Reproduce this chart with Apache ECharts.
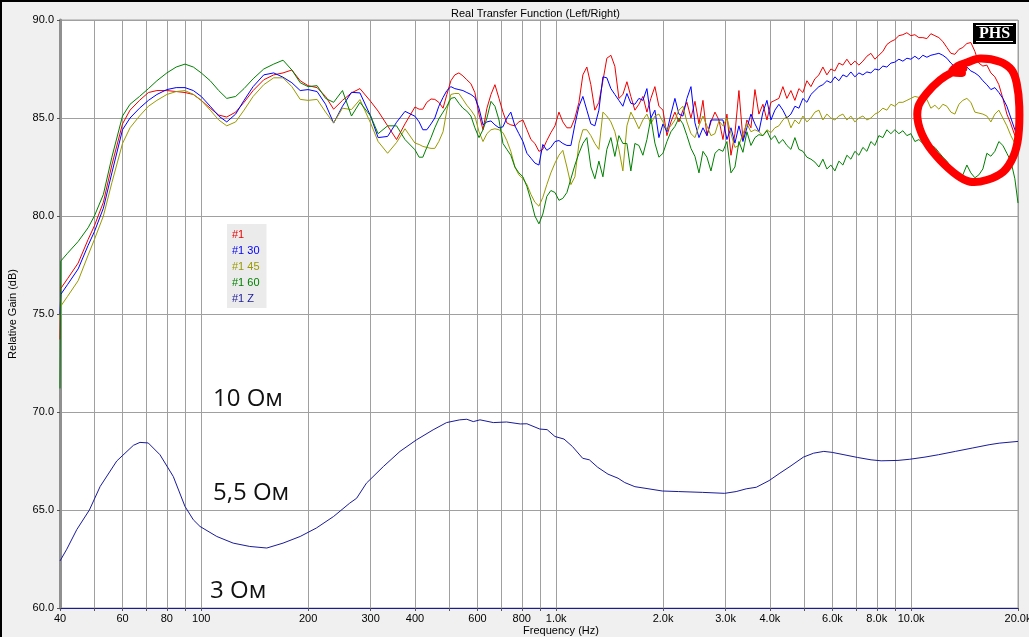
<!DOCTYPE html>
<html>
<head>
<meta charset="utf-8">
<script src="https://cdn.jsdelivr.net/npm/echarts@6/dist/echarts.min.js"></script>
<style>
html,body{margin:0;padding:0;background:#f0f0f0;}
#c{width:1029px;height:637px;}
</style>
</head>
<body>
<div id="c"></div>
<script>
// ---------- DATA ----------
const seriesNames = ['#1', '#1 30', '#1 45', '#1 60', '#1 Z'];
const xTickFreqs = [40,50,60,70,80,90,100,200,300,400,500,600,700,800,900,1000,2000,3000,4000,5000,6000,7000,8000,9000,10000,20000];
const xLabelFreqs = [40,60,80,100,200,300,400,600,800,1000,2000,3000,4000,6000,8000,10000,20000];

const freqLow = [40,40.2,42,45,48,50,53,56,60,63,67,71,75,80,85,90,95,100,106,112,118,125,132,140,150,160,170,180,190,200,212,224,236,250,265,280,300,315,335,355,375];
const freqHigh = [
400,411,421,432,444,455,467,480,492,505,
518,532,546,560,575,590,606,622,638,655,
672,690,708,726,745,765,785,806,827,849,
871,894,917,941,966,992,1018,1044,1072,1100,
1129,1159,1189,1220,1252,1285,1319,1354,1389,1426,
1463,1502,1541,1582,1623,1666,1710,1755,1801,1848,
1897,1947,1999,2051,2105,2160,2217,2275,2335,2397,
2460,2525,2591,2659,2729,2801,2874,2950,3027,3107,
3188,3272,3358,3446,3537,3630,3725,3823,3924,4027,
4132,4240,4352,4466,4584,4704,4828,4955,5085,5219,
5356,5497,5641,5789,5941,6098,6258,6422,6591,6764,
6942,7125,7312,7504,7701,7904,8111,8325,8543,8768,
8998,9235,9478,9727,9983,10245,10514,10791,11074,11365,
11664,11971,12285,12608,12940,13280,13629,13987,14355,14732,
15119,15516,15924,16343,16772,17213,17666,18130,18607,19096,
19598,20000];

// #1 (red)
const gain1 = [
73.7,76.3,76.8,77.6,78.8,79.5,80.7,82.6,84.7,85.4,85.9,86.3,86.4,86.4,86.35,86.3,86.2,85.9,85.5,85.15,85.05,85.3,85.8,86.4,86.95,87.2,87.3,87.45,86.9,86.65,86.55,86.1,85.45,85.9,86.28,86.5,85.85,85.35,84.6,83.9,84.7,
85.56,85.45,85.45,85.8,85.97,85.95,85.8,85.5,86.2,86.9,
87.2,87.3,87.15,86.95,86.75,86.3,85.2,84.4,85.5,86.2,
86.7,86.0,85.3,84.75,84.65,84.6,84.8,84.9,84.4,83.9,
83.7,83.3,83.4,83.85,84.25,84.6,85.3,84.8,84.5,84.5,
85.0,85.8,87.2,87.6,86.7,85.4,85.8,86.9,88.05,88.2,
87.64,86.0,86.2,86.85,86.1,85.4,85.7,86.1,85.3,86.0,
86.6,85.6,85.4,84.1,84.8,85.3,84.8,85.4,85.8,85.0,
85.85,84.7,85.9,84.1,84.8,85.3,84.9,83.9,85.2,83.1,
84.2,86.4,83.9,84.9,84.5,86.45,85.2,85.7,84.9,85.8,
85.9,86.0,86.6,86.0,86.4,85.9,86.5,86.3,86.9,86.6,
87.0,87.2,87.6,87.2,87.5,87.4,87.8,87.7,88.0,87.7,
87.9,87.7,87.9,88.15,88.3,88.0,88.2,88.4,88.75,88.9,
89.0,89.2,89.25,89.35,89.2,89.25,89.1,89.1,89.05,89.3,
89.2,89.1,88.9,88.6,88.3,88.25,88.5,88.6,88.8,88.85,
88.4,87.8,87.65,87.7,87.3,87.1,86.7,86.0,85.2,84.7,
84.1,83.7];

// #1 30 (blue)
const gain30 = [
75.0,76.0,76.5,77.3,78.5,79.2,80.4,82.2,84.4,85.0,85.5,85.9,86.2,86.45,86.55,86.55,86.4,86.1,85.6,85.1,84.8,85.2,85.9,86.6,87.2,87.3,87.08,86.8,86.4,86.45,86.35,85.7,84.74,85.6,86.31,86.28,85.1,84.0,84.06,84.78,85.34,
85.09,84.8,84.4,84.4,84.7,85.0,85.6,86.05,86.4,86.6,
86.5,86.45,86.4,86.3,86.2,86.05,85.5,84.65,84.8,84.85,
84.65,84.5,84.55,85.0,85.3,84.6,84.2,83.8,83.2,82.95,
82.7,82.6,83.65,83.35,83.5,83.8,83.85,83.7,83.6,83.6,
84.66,85.6,86.1,85.4,84.7,84.6,85.4,87.1,87.05,86.5,
86.2,85.9,85.6,86.25,85.75,85.7,86.0,85.9,86.5,85.0,
85.4,84.0,84.7,84.3,85.2,86.0,85.2,85.1,86.0,86.6,
84.75,84.0,84.5,84.1,84.9,84.9,84.9,84.9,83.9,84.5,
83.72,84.6,83.8,84.5,85.2,84.7,84.3,85.3,85.9,84.9,
85.4,85.7,85.4,85.0,85.2,85.6,85.5,86.0,85.8,86.2,
86.4,86.6,86.7,86.9,86.8,87.1,86.9,87.2,87.1,87.35,
87.1,87.3,87.2,87.35,87.3,87.5,87.45,87.65,87.6,87.8,
87.85,88.0,87.9,88.05,88.0,88.15,88.0,88.2,88.1,88.2,
88.25,88.3,88.2,88.05,87.8,87.6,87.5,87.7,87.6,87.4,
87.3,87.15,86.9,86.7,86.45,86.55,86.3,86.0,85.6,85.0,
84.4,84.0];

// #1 45 (olive)
const gain45 = [
74.7,75.4,75.9,76.7,78.0,78.8,80.0,81.7,83.7,84.5,85.1,85.6,85.9,86.2,86.35,86.4,86.2,85.9,85.4,84.9,84.6,84.8,85.4,86.1,86.7,87.05,87.05,86.6,85.95,85.9,85.95,85.3,84.75,85.5,85.43,85.94,84.74,83.8,83.2,83.75,84.45,
83.72,83.65,83.55,83.5,83.45,83.45,83.8,84.3,85.4,86.2,
86.25,86.25,85.95,85.65,85.4,85.1,84.3,83.8,84.2,84.4,
84.45,84.4,84.25,83.85,83.3,82.5,82.1,81.9,81.6,81.1,
80.7,80.5,80.95,81.6,82.2,82.7,83.1,83.35,82.5,81.6,
82.0,83.7,84.4,84.4,84.1,83.7,83.4,85.3,85.1,84.8,
84.3,83.4,82.3,84.6,85.3,84.9,84.45,84.9,85.2,84.7,
85.1,85.2,84.8,84.4,84.6,84.9,85.4,85.6,84.8,84.2,
84.0,84.6,85.1,84.6,84.1,84.2,84.85,84.6,85.0,84.2,
83.5,83.6,84.2,84.7,84.3,84.4,84.3,84.1,84.4,84.25,
84.5,84.6,84.9,85.1,84.5,84.9,84.7,85.1,84.8,85.0,
85.3,85.4,84.9,85.2,85.0,84.9,85.1,85.2,84.9,85.1,
84.8,85.0,85.1,84.9,85.0,85.2,85.3,85.5,85.4,85.7,
85.6,85.8,85.8,85.9,86.0,86.1,86.05,85.9,85.95,85.5,
85.65,85.45,85.7,85.6,85.3,85.2,85.7,85.9,86.0,85.8,
85.3,85.25,85.2,85.1,84.8,85.2,85.4,85.0,84.6,84.1,
83.7,83.3];

// #1 60 (green)
const gain60 = [
71.2,77.7,78.1,78.7,79.4,80.0,81.1,83.0,85.1,85.7,86.1,86.5,86.9,87.3,87.6,87.75,87.6,87.3,86.9,86.4,86.0,86.1,86.5,87.0,87.5,87.75,87.95,87.45,86.8,86.6,86.65,86.0,85.8,86.4,85.1,85.8,85.1,84.2,84.6,84.6,83.9,
83.38,83.0,83.0,83.5,84.0,84.5,84.95,85.3,85.6,86.0,
86.05,85.75,85.5,85.35,85.1,84.5,84.0,84.4,85.0,85.85,
85.6,84.9,83.7,83.4,83.1,82.5,82.2,82.0,81.5,80.8,
80.0,79.6,80.1,81.0,81.3,81.2,80.8,80.9,81.2,81.9,
82.6,83.2,83.7,84.0,82.5,81.9,82.8,82.0,83.4,84.0,
83.04,84.1,83.7,83.7,82.3,83.7,83.6,83.1,83.9,85.0,
83.72,83.0,83.2,83.8,84.3,84.57,85.0,84.7,84.1,83.45,
83.04,82.2,83.3,83.0,82.3,83.2,83.4,83.3,83.8,82.2,
82.5,83.8,83.25,84.3,83.6,84.0,84.15,84.1,84.35,83.9,
84.1,83.7,83.9,83.6,83.4,84.0,83.4,83.3,83.0,82.9,
82.75,82.5,82.9,82.4,82.6,82.3,82.8,82.6,83.1,82.9,
83.3,83.1,83.5,83.3,83.8,83.6,84.1,84.0,84.4,84.2,
84.4,84.2,84.35,84.1,84.2,83.8,83.9,83.7,83.9,83.6,
83.5,83.25,83.0,82.8,82.5,82.0,81.9,82.1,82.6,82.2,
81.95,82.1,82.4,83.2,83.05,83.3,83.8,83.6,83.2,82.8,
81.9,80.66];

// #1 Z (impedance curve, own frequency grid)
const zFreq = [40,41.8,44.6,48.4,51.9,57.8,64.4,67.2,70.9,76.5,83.4,90,95,99.2,110.6,123,137,153,170,190,211,236,262,274,292,326,363,404,450,491,535,560,584,610,665,725,792,827,899,943,992,1052,1111,1187,1240,1309,1399,1494,1560,1666,1779,1990,2214,2580,2982,3213,3430,3662,3979,4268,4557,4973,5313,5675,5991,6468,7064,7710,8229,9180,9915,10940,11940,13320,14860,16580,17700,20000];
const zGain = [62.4,63.0,64.0,65.0,66.2,67.5,68.3,68.45,68.42,67.82,66.71,65.18,64.5,64.16,63.65,63.31,63.14,63.06,63.31,63.65,64.08,64.67,65.35,65.6,66.37,67.22,67.99,68.58,69.09,69.46,69.6,69.63,69.51,69.6,69.46,69.49,69.39,69.4,69.13,69.1,68.75,68.62,68.24,67.64,67.56,67.18,66.83,66.62,66.4,66.19,66.11,65.97,65.94,65.9,65.85,65.94,66.08,66.16,66.5,66.88,67.22,67.7,67.9,67.99,67.94,67.82,67.68,67.56,67.51,67.53,67.59,67.7,67.82,67.99,68.16,68.33,68.41,68.5];

const colors = ['#ee0000', '#0000ff', '#9a9a00', '#008000', '#1a1a9a'];

// ---------- BUILD ----------
const freq = freqLow.concat(freqHigh);
function zip(xs, ys) {
  if (xs.length !== ys.length) console.error('length mismatch', xs.length, ys.length);
  return xs.map((x, i) => [x, ys[i]]);
}
const seriesData = [zip(freq, gain1), zip(freq, gain30), zip(freq, gain45), zip(freq, gain60), zip(zFreq, zGain)];

const axisFont = 'Liberation Sans, Arial, sans-serif';
const chart = echarts.init(document.getElementById('c'));
const option = {
  animation: false,
  backgroundColor: '#f0f0f0',
  title: {
    text: 'Real Transfer Function (Left/Right)',
    left: 446, top: 3,
    textStyle: {fontSize: 11, fontWeight: 'normal', color: '#000', fontFamily: axisFont}
  },
  grid: {left: 60, right: 11, top: 20, bottom: 29, outerBoundsMode: 'none', containLabel: false,
    show: true, backgroundColor: '#ffffff', borderColor: '#a0a0a0', borderWidth: 1},
  legend: {
    orient: 'vertical', left: 227, top: 224,
    selectedMode: false,
    icon: 'rect', itemWidth: 0, itemHeight: 13, itemGap: 3,
    backgroundColor: '#ebebeb', padding: [4, 7, 3, 0],
    textStyle: {fontSize: 11, fontFamily: axisFont, lineHeight: 13},
    data: seriesNames.map((n, i) => ({name: n, textStyle: {color: colors[i]}, itemStyle: {opacity: 0}}))
  },
  xAxis: {
    type: 'log', logBase: 10, min: 40, max: 20000,
    name: 'Frequency (Hz)', nameLocation: 'middle', nameGap: 17, nameMoveOverlap: false,
    nameTextStyle: {fontSize: 11, color: '#000', fontFamily: axisFont, padding: [0, 0, 0, 44]},
    axisLine: {show: true, lineStyle: {color: '#1a1a9a', width: 1}},
    axisTick: {show: true, customValues: xTickFreqs, length: 3, lineStyle: {color: '#555'}},
    axisLabel: {
      customValues: xLabelFreqs, fontSize: 11, color: '#000', fontFamily: axisFont, margin: 5,
      formatter: v => v >= 1000 ? (v / 1000).toFixed(1) + 'k' : String(v)
    },
    splitLine: {show: true, lineStyle: {color: '#a0a0a0', width: 1}},
    minorTick: {show: false}, minorSplitLine: {show: false}
  },
  yAxis: {
    type: 'value', min: 60, max: 90, interval: 5,
    name: 'Relative Gain (dB)', nameLocation: 'middle', nameGap: 42, nameMoveOverlap: false,
    nameTextStyle: {fontSize: 11, color: '#000', fontFamily: axisFont},
    axisLine: {show: true, lineStyle: {color: '#909090', width: 3}},
    axisTick: {show: true, length: 3, lineStyle: {color: '#555'}},
    axisLabel: {fontSize: 11, color: '#000', fontFamily: axisFont, margin: 6, formatter: v => v.toFixed(1)},
    splitLine: {show: true, lineStyle: {color: '#a0a0a0', width: 1}}
  },
  series: seriesNames.map((n, i) => ({
    name: n, type: 'line', data: seriesData[i],
    showSymbol: false, symbol: 'none',
    lineStyle: {color: colors[i], width: 1},
    itemStyle: {color: colors[i]},
    emphasis: {disabled: true}
  })),
  graphic: [
    {type: 'rect', shape: {x: 0, y: 0, width: 1029, height: 2}, style: {fill: '#000'}, z: 100},
    {type: 'rect', shape: {x: 0, y: 0, width: 2, height: 637}, style: {fill: '#000'}, z: 100},
    {type: 'rect', shape: {x: 973, y: 23, width: 43, height: 21}, style: {fill: '#000'}, z: 100},
    {type: 'line', shape: {x1: 976, y1: 25.5, x2: 1013, y2: 25.5}, style: {stroke: '#fff', lineWidth: 1}, z: 101},
    {type: 'line', shape: {x1: 976, y1: 41.5, x2: 1013, y2: 41.5}, style: {stroke: '#fff', lineWidth: 1}, z: 101},
    {type: 'text', x: 994.5, y: 34, z: 101, style: {text: 'PHS', fill: '#fff', font: 'bold 16px "Liberation Serif", "DejaVu Serif", serif', textAlign: 'center', textVerticalAlign: 'middle'}},
    {type: 'polyline', z: 102, shape: {smooth: 0.35, points: [
      [962, 73], [952, 72], [958, 66], [967, 62.5], [980, 58.5], [1000, 61.7], [1011.7, 70], [1016.7, 83.3],
      [1019.3, 106.7], [1018.3, 136.7], [1013.3, 156.7], [1003.3, 171.7], [986.7, 180], [970, 181.7],
      [956.7, 175], [940, 160], [926.7, 143.3], [918.3, 123.3], [918.3, 106.7], [926.7, 93.3],
      [940, 80], [953.3, 71.7], [963.3, 68.3]
    ]}, style: {stroke: '#ff0000', lineWidth: 8, lineCap: 'round', lineJoin: 'round', fill: null}},
    {type: 'text', x: 213, y: 399, z: 50, style: {text: '10 Ом', fill: '#111', font: '24px "Open Sans", sans-serif', textVerticalAlign: 'middle'}},
    {type: 'text', x: 213, y: 493, z: 50, style: {text: '5,5 Ом', fill: '#111', font: '24px "Open Sans", sans-serif', textVerticalAlign: 'middle'}},
    {type: 'text', x: 210, y: 591, z: 50, style: {text: '3 Ом', fill: '#111', font: '24px "Open Sans", sans-serif', textVerticalAlign: 'middle'}}
  ]
};
chart.setOption(option);
</script>
</body>
</html>
